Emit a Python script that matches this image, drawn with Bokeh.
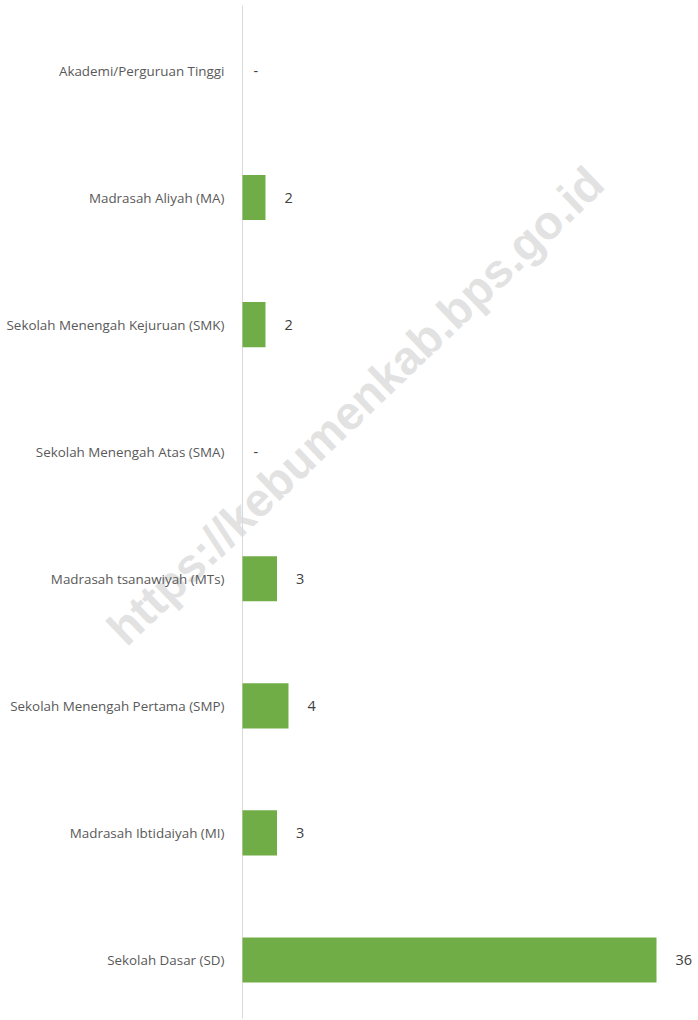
from bokeh.plotting import figure
from bokeh.models import ColumnDataSource, Range1d, Label
from bokeh.core.properties import value
from bokeh.embed import file_html
from bokeh.resources import INLINE

categories = [
    "Akademi/Perguruan Tinggi",
    "Madrasah Aliyah (MA)",
    "Sekolah Menengah Kejuruan (SMK)",
    "Sekolah Menengah Atas (SMA)",
    "Madrasah tsanawiyah (MTs)",
    "Sekolah Menengah Pertama (SMP)",
    "Madrasah Ibtidaiyah (MI)",
    "Sekolah Dasar (SD)",
]
counts = [0, 2, 2, 0, 3, 4, 3, 36]
count_labels = ["-", "2", "2", "-", "3", "4", "3", "36"]

W, H = 698, 1020
axis_px = 242          # pixel column of the value axis (x = 0)
px_per_unit = 11.5     # horizontal scale
row_px = 127.07        # vertical spacing between categories
first_center_px = 70   # y pixel of the top category
axis_top_px, axis_bottom_px = 5, 1018

n = len(categories)
ypos = [n - 1 - i for i in range(n)]
src = ColumnDataSource(dict(
    y=ypos,
    cat=categories,
    val=counts,
    lab=count_labels,
    off=[11 if l == "-" else 19 for l in count_labels],
))

y_top = (n - 1) + first_center_px / row_px
y_bottom = y_top - H / row_px
p = figure(width=W, height=H, output_backend="svg", toolbar_location=None,
           x_range=Range1d(-axis_px / px_per_unit, (W - axis_px) / px_per_unit),
           y_range=Range1d(y_bottom, y_top),
           x_axis_location=None, y_axis_location=None,
           min_border=0, background_fill_color="white", border_fill_color="white")
p.outline_line_color = None
p.grid.visible = False

# watermark (behind everything)
wm = Label(x=355, y=H - 405, x_units="screen", y_units="screen",
           text="https://kebumenkab.bps.go.id", angle=43.8, angle_units="deg",
           text_align="center", text_baseline="middle",
           text_font="Liberation Sans", text_font_style="bold",
           text_font_size="47px", text_color="#e2e2e2", level="underlay")
p.add_layout(wm)

# value axis line
p.segment(x0=[0], x1=[0],
          y0=[y_top - axis_bottom_px / row_px], y1=[y_top - axis_top_px / row_px],
          line_color="#d9d9d9", line_width=1)

p.hbar(y="y", right="val", left=0, height=0.355, source=src,
       fill_color="#70AD47", line_color=None)

# value labels
p.text(x="val", y="y", text="lab", source=src, x_offset="off",
       text_align="left", text_baseline="middle",
       text_font=value("Open Sans"), text_font_size="14.5px", text_color="#404040")

# category labels
p.text(x=0, y="y", text="cat", source=src, x_offset=-18,
       text_align="right", text_baseline="middle",
       text_font=value("Open Sans"), text_font_size="13.4px", text_color="#595959")

open("out.html", "w").write(file_html(p, INLINE))
